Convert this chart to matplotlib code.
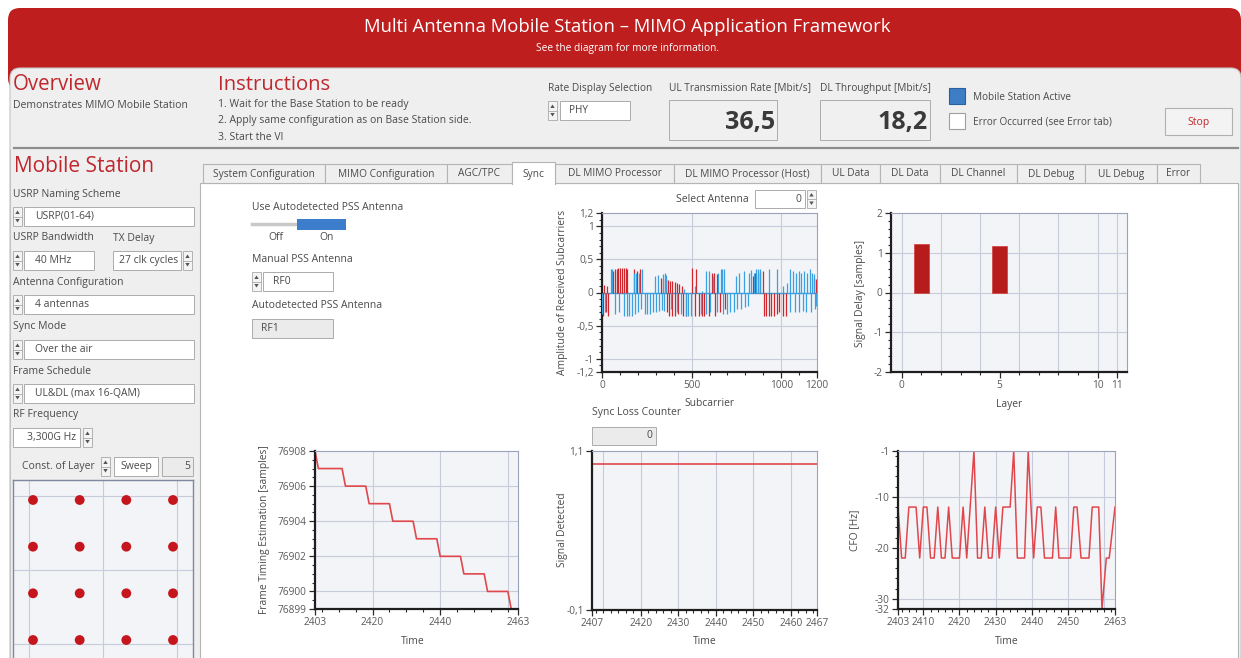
import matplotlib
matplotlib.use('Agg')
import matplotlib.pyplot as plt
from matplotlib.patches import Rectangle, FancyBboxPatch, Polygon
import numpy as np

plt.rcParams['font.family'] = ['Open Sans', 'DejaVu Sans']

# ------------------------------------------------------------------ data
title = "Multi Antenna Mobile Station \u2013 MIMO Application Framework"
subtitle = "See the diagram for more information."
instructions = ["1. Wait for the Base Station to be ready",
                "2. Apply same configuration as on Base Station side.",
                "3. Start the VI"]
ul_rate = "36,5"
dl_rate = "18,2"
tab_names = ["System Configuration", "MIMO Configuration", "AGC/TPC", "Sync",
             "DL MIMO Processor", "DL MIMO Processor (Host)", "UL Data", "DL Data",
             "DL Channel", "DL Debug", "UL Debug", "Error"]
selected_tab = "Sync"

# received subcarriers (antenna 0): red / blue components
red_sc = [5, 12, 20, 28, 35, 62, 72, 82, 92, 102, 112, 122, 132, 142, 180, 198, 214,
          330, 342, 355, 368, 380, 392, 405, 418, 430, 445,
          362, 376, 390, 410, 426, 450, 468, 500, 524,
          520, 540, 556, 572, 598, 628, 658, 688, 612, 626, 640,
          842, 856, 868, 882, 896, 906, 918, 932, 946, 960, 975, 990, 1008, 1028,
          1182, 1196]
red_amp = [-0.35, 0.12, -0.30, 0.10, -0.35, 0.33, 0.36, 0.35, 0.37, 0.37, 0.37, 0.37, 0.37, 0.36, 0.35, 0.33, 0.35,
           0.22, 0.21, 0.20, 0.19, 0.18, 0.17, 0.16, 0.15, 0.13, 0.10,
           -0.30, -0.35, -0.35, -0.35, -0.33, -0.35, -0.35, 0.37, 0.36,
           -0.35, -0.35, -0.35, -0.35, -0.35, -0.35, -0.30, -0.25, 0.30, 0.30, 0.28,
           0.25, 0.30, 0.30, 0.32, 0.33, -0.35, -0.35, -0.35, -0.35, -0.35, -0.33, -0.30, -0.35, -0.35,
           0.22, 0.20]
blue_sc = [0, 15, 50, 58, 75, 95, 120, 138, 152, 166, 182, 200, 220, 238, 252, 268, 284, 300, 318, 334, 348,
           176, 192, 206, 226, 298, 310, 340, 350, 358,
           385, 420, 440, 470, 482, 494, 460, 520, 560,
           582, 596, 618, 650, 662, 672, 682,
           550, 580, 604, 640, 676, 698, 716, 736, 756, 776, 796, 816,
           746, 762, 790, 818, 834, 848, 860, 872, 884, 934,
           978, 1012, 1032, 1050, 1068, 1084, 1098, 1112, 1128, 1144, 1160, 1172, 1186,
           1052, 1078, 1100, 1120, 1140, 1164, 1190, 1197]
blue_amp = [-0.33, -0.30, 0.35, 0.35, -0.33, -0.30, -0.35, -0.35, -0.35, -0.35, -0.33, -0.30, -0.25, -0.33, -0.33,
            -0.32, -0.30, -0.30, -0.28, -0.26, -0.28,
            0.30, 0.30, 0.30, 0.35, 0.25, 0.27, 0.28, 0.30, 0.27,
            -0.25, -0.30, -0.33, -0.35, -0.35, -0.35, 0.05, 0.10, 0.03,
            0.33, 0.33, 0.25, 0.30, 0.35, 0.35, 0.35,
            -0.33, -0.33, -0.30, -0.30, -0.33, -0.32, -0.30, -0.30, -0.25, -0.25, -0.22, -0.20,
            0.25, 0.30, 0.32, 0.30, 0.34, 0.30, 0.35, 0.35, 0.35, 0.35,
            0.35, 0.10, 0.15, 0.35, 0.32, 0.30, 0.32, 0.30, 0.32, 0.30, 0.35, 0.30, 0.28,
            -0.30, -0.30, -0.30, -0.28, -0.30, -0.30, -0.25, -0.20]

# signal delay per layer
layers = [1, 5]
signal_delay = [1.21, 1.17]

# frame timing estimation
ft_time = [2403, 2404, 2411, 2412, 2418, 2419, 2425, 2426, 2432, 2433, 2439, 2440,
           2446, 2447, 2453, 2454, 2460, 2461]
ft_value = [76908, 76907, 76907, 76906, 76906, 76905, 76905, 76904, 76904, 76903, 76903, 76902,
            76902, 76901, 76901, 76900, 76900, 76899]

# signal detected
sd_time = [2407, 2467]
sd_value = [1.0, 1.0]

# CFO
cfo_time = [2403, 2404, 2405, 2406, 2408, 2409, 2410, 2411, 2412, 2413, 2414, 2415, 2416, 2417, 2418,
            2420, 2421, 2422, 2424, 2425, 2426, 2427, 2428, 2429, 2430, 2431, 2432, 2434, 2435, 2436,
            2438, 2439, 2440.5, 2441.5, 2442.5, 2443.5, 2445.7, 2446.6, 2447.5, 2450.7, 2451.6, 2452.5,
            2453.6, 2455.8, 2456.7, 2458.5, 2459.4, 2460.6, 2461.4, 2463]
cfo_value = [-12, -22, -22, -12, -12, -22, -12, -12, -22, -22, -12, -22, -22, -12, -22,
             -22, -12, -22, -1, -22, -22, -12, -22, -22, -12, -22, -12, -12, -1, -22,
             -22, -1, -22, -12, -12, -22, -22, -12, -22, -22, -12, -12,
             -22, -22, -12, -12, -32, -22, -22, -12]

# constellation (16-QAM, layer 5)
const_levels = [-0.949, -0.316, 0.316, 0.949]
const_i = [i for q in const_levels for i in const_levels]
const_q = [q for q in const_levels for i in const_levels]

# ------------------------------------------------------------------ styles
W, H = 1241, 658
RED = '#BE1E1E'
RED_T = '#C0272D'
TXT = '#4A4A4A'
PANEL = '#EFEFEF'
BORDER = '#ABABAB'
CH_BG = '#F3F4F7'
GRID = '#C7CCDC'
BLUE = '#3C7DC6'
FS = 7.5

fig = plt.figure(figsize=(W / 100, H / 100), dpi=100)
fig.patch.set_facecolor('white')
ui = fig.add_axes([0, 0, 1, 1], zorder=0)
ui.set_xlim(0, W)
ui.set_ylim(H, 0)
ui.axis('off')


def rect(x0, y0, x1, y1, fc, ec='none', lw=0.8, r=0, z=1):
    if r:
        p = FancyBboxPatch((x0, y0), x1 - x0, y1 - y0,
                           boxstyle=f"round,pad=0,rounding_size={r}",
                           fc=fc, ec=ec, lw=lw, zorder=z)
    else:
        p = Rectangle((x0, y0), x1 - x0, y1 - y0, fc=fc, ec=ec, lw=lw, zorder=z)
    ui.add_patch(p)


def txt(x, y, s, size=FS, color=TXT, ha='left', va='center', z=5, **kw):
    ui.text(x, y, s, fontsize=size, color=color, ha=ha, va=va, zorder=z, **kw)


def spinner(x, y0, y1):
    rect(x, y0, x + 9, y1, '#F4F4F4', '#A8A8A8', 0.6, z=3)
    ym = (y0 + y1) / 2
    ui.plot([x, x + 9], [ym, ym], color='#A8A8A8', lw=0.6, zorder=4)
    ui.add_patch(Polygon([[x + 2.3, ym - 2.5], [x + 6.7, ym - 2.5], [x + 4.5, ym - 6]],
                         fc='#555555', ec='none', zorder=4))
    ui.add_patch(Polygon([[x + 2.3, ym + 2.5], [x + 6.7, ym + 2.5], [x + 4.5, ym + 6]],
                         fc='#555555', ec='none', zorder=4))


def box(x0, y0, x1, y1, s='', fc='white', ha='left', pad=10, size=FS):
    rect(x0, y0, x1, y1, fc, BORDER, 0.7, z=3)
    if s:
        if ha == 'left':
            xt = x0 + pad
        elif ha == 'right':
            xt = x1 - pad
        else:
            xt = (x0 + x1) / 2
        txt(xt, (y0 + y1) / 2, s, size=size, ha=ha)


# ---------------------------------------------------------- frame / banner
rect(8, 8, 1241, 90, RED, r=12, z=1)
rect(10, 68, 1241, 700, PANEL, '#C4C4C4', 0.8, r=10, z=2)
ui.plot([14, 1238], [148, 148], color='#8E8E8E', lw=1.6, zorder=3)
txt(627, 27, title, size=13.3, color='white', ha='center')
txt(627, 49, subtitle, size=7.3, color='white', ha='center')

# top panel
txt(13, 85, 'Overview', size=14.8, color=RED_T)
txt(13, 105, 'Demonstrates MIMO Mobile Station', size=FS)
txt(218, 85, 'Instructions', size=14.6, color=RED_T)
for k, line in enumerate(instructions):
    txt(218, 104 + 17 * k, line, size=FS)
txt(548, 88, 'Rate Display Selection', size=7.3)
spinner(548, 101, 120)
box(560, 101, 630, 120, 'PHY', pad=9, size=7.2)
txt(669, 88, 'UL Transmission Rate [Mbit/s]', size=7.3)
box(669, 100, 777, 140, fc='#F0F0F0')
txt(775, 122, ul_rate, size=18, color='#3A3A3A', ha='right', weight='bold')
txt(820, 88, 'DL Throughput [Mbit/s]', size=7.3)
box(820, 100, 930, 140, fc='#F0F0F0')
txt(928, 122, dl_rate, size=18, color='#3A3A3A', ha='right', weight='bold')
rect(949, 88, 965, 104, BLUE, '#2B5E9C', 0.8, z=3)
txt(973, 97, 'Mobile Station Active', size=7.2)
rect(949, 113, 965, 129, 'white', '#A0A0A0', 0.8, z=3)
txt(973, 122, 'Error Occurred (see Error tab)', size=7.2)
rect(1165, 108, 1232, 135, '#F3F3F3', '#B0B0B0', 0.8, z=3)
txt(1198.5, 122, 'Stop', size=7.5, color=RED_T, ha='center')

# left panel: Mobile Station
ui.plot([10, 10], [150, 658], color='#C4C4C4', lw=0.8, zorder=3)
txt(14, 167, 'Mobile Station', size=15, color=RED_T)
txt(13, 194, 'USRP Naming Scheme')
spinner(13, 207, 226)
box(24, 207, 194, 226, 'USRP(01-64)', pad=11)
txt(13, 238, 'USRP Bandwidth')
txt(113, 238, 'TX Delay')
spinner(13, 251, 270)
box(24, 251, 94, 270, '40 MHz', pad=11)
box(113, 251, 181, 270, '27 clk cycles', ha='right', pad=3)
spinner(183, 251, 270)
txt(13, 282, 'Antenna Configuration')
spinner(13, 295, 314)
box(24, 295, 194, 314, '4 antennas', pad=11)
txt(13, 326, 'Sync Mode')
spinner(13, 340, 359)
box(24, 340, 194, 359, 'Over the air', pad=11)
txt(13, 371, 'Frame Schedule')
spinner(13, 384, 403)
box(24, 384, 194, 403, 'UL&DL (max 16-QAM)', pad=11)
txt(13, 415, 'RF Frequency')
box(13, 428, 80, 447, '3,300G Hz', ha='right', pad=4)
spinner(83, 428, 447)
txt(22, 466, 'Const. of Layer')
spinner(101, 457, 476)
box(114, 457, 158, 476, 'Sweep', ha='center')
box(162, 457, 193, 476, '5', fc='#EBEBEB', ha='right', pad=3)

# tab control
rect(200, 183, 1238, 700, 'white', '#B4B4B4', 0.8, z=3)
tab_edges = [203, 325, 447, 512, 555, 674, 821, 880, 940, 1017, 1085, 1157, 1200]
for k, name in enumerate(tab_names):
    x0, x1 = tab_edges[k], tab_edges[k + 1]
    if name == selected_tab:
        rect(x0, 162, x1, 184.5, 'white', 'none', z=5)
        ui.plot([x0, x0, x1, x1], [184, 162, 162, 184], color='#B4B4B4', lw=0.8, zorder=6)
    else:
        rect(x0, 164, x1, 183, '#EFEFEF', '#B4B4B4', 0.8, z=4)
    txt((x0 + x1) / 2, 174, name, size=7.3, ha='center', z=7)

# sync tab controls
txt(252, 207, 'Use Autodetected PSS Antenna')
ui.plot([252, 296], [224, 224], color='#C8C8C8', lw=2.5, zorder=4)
rect(297, 219, 346, 230, '#3C7DCC', z=4)
txt(276, 238, 'Off', ha='center')
txt(327, 238, 'On', ha='center')
txt(252, 259, 'Manual PSS Antenna')
spinner(252, 272, 291)
box(263, 272, 333, 291, 'RF0', pad=10)
txt(252, 306, 'Autodetected PSS Antenna')
box(252, 319, 333, 338, 'RF1', fc='#EBEBEB', pad=9)
txt(676, 199, 'Select Antenna')
box(755, 190, 805, 208, '0', ha='right', pad=4)
spinner(807, 190, 208)
txt(592, 412, 'Sync Loss Counter')
box(592, 427, 656, 445, '0', fc='#EBEBEB', ha='right', pad=4)

# axis labels (pixel placed)
AL = 7.4
txt(563, 292, 'Amplitude of Received Subcarriers', size=AL, ha='center', rotation=90)
txt(710, 403, 'Subcarrier', size=AL, ha='center')
txt(861, 293, 'Signal Delay [samples]', size=AL, ha='center', rotation=90)
txt(1009, 405, 'Layer', size=AL, ha='center')
txt(265, 530, 'Frame Timing Estimation [samples]', size=AL, ha='center', rotation=90)
txt(413, 642, 'Time', size=AL, ha='center')
txt(563, 530, 'Signal Detected', size=AL, ha='center', rotation=90)
txt(705, 642, 'Time', size=AL, ha='center')
txt(855, 530, 'CFO [Hz]', size=AL, ha='center', rotation=90)
txt(1007, 642, 'Time', size=AL, ha='center')


# ---------------------------------------------------------------- charts
def make_ax(x0, y0, x1, y1):
    ax = fig.add_axes([x0 / W, 1 - y1 / H, (x1 - x0) / W, (y1 - y0) / H], zorder=3)
    ax.set_facecolor(CH_BG)
    for s in ('left', 'bottom'):
        ax.spines[s].set_color('#1E1E1E')
        ax.spines[s].set_linewidth(1.6)
    for s in ('top', 'right'):
        ax.spines[s].set_color('#9AA3BC')
        ax.spines[s].set_linewidth(0.8)
    ax.tick_params(which='major', direction='out', length=4, width=0.9, color='#2A2A2A',
                   labelsize=7.3, labelcolor='#5A5A5A', pad=2)
    ax.tick_params(which='minor', direction='out', length=2.5, width=0.8, color='#2A2A2A')
    return ax


def grid(ax, xs=(), ys=()):
    for v in xs:
        ax.axvline(v, color=GRID, lw=0.8, zorder=0.5)
    for v in ys:
        ax.axhline(v, color=GRID, lw=0.8, zorder=0.5)


def fmt(v):
    s = f"{v:g}"
    return s.replace('.', ',')


# chart 1: received subcarriers
ax1 = make_ax(602, 213, 817, 372)
ax1.set_xlim(0, 1200)
ax1.set_ylim(-1.2, 1.2)
grid(ax1, [500, 1000], [-1, -0.5, 0, 0.5, 1])
ax1.plot([0, 1200], [0, 0], color='#3AA0E0', lw=1.0, zorder=1)
ax1.vlines(red_sc, 0, red_amp, color='#D0262E', lw=0.9, zorder=2)
ax1.vlines(blue_sc, 0, blue_amp, color='#3AA0E0', lw=0.9, zorder=3)
yt = [-1.2, -1, -0.5, 0, 0.5, 1, 1.2]
ax1.set_yticks(yt, [fmt(v) for v in yt])
ax1.set_yticks(np.arange(-12, 13) / 10, minor=True)
ax1.set_xticks([0, 500, 1000, 1200], ['0', '500', '1000', '1200'])
ax1.set_xticks(np.arange(0, 1201, 100), minor=True)

# chart 2: signal delay
ax2 = make_ax(891, 213, 1127, 372)
ax2.set_xlim(-0.55, 11.5)
ax2.set_ylim(-2, 2)
grid(ax2, [0, 2, 4, 6, 8, 10, 11], [-1, 0, 1])
ax2.bar(layers, signal_delay, width=0.75, color='#B71C1C', edgecolor='#D24848', lw=0.6, zorder=2)
ax2.set_xticks([0, 5, 10, 11], ['0', '5', '10', '11'])
ax2.set_xticks(np.arange(0, 12), minor=True)
ax2.set_yticks([-2, -1, 0, 1, 2], ['-2', '-1', '0', '1', '2'])
ax2.set_yticks(np.arange(-20, 21, 2) / 10, minor=True)

# chart 3: frame timing estimation
ax3 = make_ax(315, 451, 518, 609)
ax3.set_xlim(2403, 2463)
ax3.set_ylim(76899, 76908)
grid(ax3, [2420, 2440, 2460], [76900, 76902, 76904, 76906])
ax3.plot(ft_time, ft_value, color='#E0474C', lw=1.2, zorder=2, clip_on=True)
ax3.set_xticks([2403, 2420, 2440, 2463], ['2403', '2420', '2440', '2463'])
ax3.set_xticks(np.arange(2405, 2463, 5), minor=True)
yt3 = [76899, 76900, 76902, 76904, 76906, 76908]
ax3.set_yticks(yt3, [str(v) for v in yt3])
ax3.set_yticks(np.arange(76899, 76908.01, 0.5), minor=True)

# chart 4: signal detected
ax4 = make_ax(592, 451, 817, 610)
ax4.set_xlim(2407, 2467)
ax4.set_ylim(-0.1, 1.1)
grid(ax4, [2410, 2420, 2430, 2440, 2450, 2460], [])
ax4.plot(sd_time, sd_value, color='#E0474C', lw=1.2, zorder=2)
xt4 = [2407, 2420, 2430, 2440, 2450, 2460, 2467]
ax4.set_xticks(xt4, [str(v) for v in xt4])
ax4.set_xticks(np.arange(2408, 2467, 2), minor=True)
ax4.set_yticks([-0.1, 1.1], ['-0,1', '1,1'])

# chart 5: CFO
ax5 = make_ax(898, 451, 1115, 609)
ax5.set_xlim(2403, 2463)
ax5.set_ylim(-32, -1)
grid(ax5, [2410, 2420, 2430, 2440, 2450, 2460], [-30, -20, -10])
ax5.plot(cfo_time, cfo_value, color='#E0474C', lw=1.1, zorder=2)
xt5 = [2403, 2410, 2420, 2430, 2440, 2450, 2463]
ax5.set_xticks(xt5, [str(v) for v in xt5])
ax5.set_xticks(np.arange(2404, 2463, 2), minor=True)
yt5 = [-32, -30, -20, -10, -1]
ax5.set_yticks(yt5, [str(v) for v in yt5])
ax5.set_yticks(np.arange(-32, 0, 2), minor=True)

# constellation
ax6 = fig.add_axes([13 / W, 1 - 660 / H, 180 / W, 180 / H], zorder=3)
ax6.set_facecolor(CH_BG)
ax6.set_xlim(-1.22, 1.22)
ax6.set_ylim(-1.22, 1.22)
for s in ax6.spines.values():
    s.set_color('#7F889F')
    s.set_linewidth(1.0)
ax6.set_xticks([])
ax6.set_yticks([])
grid(ax6, [-1, 0, 1], [-1, 0, 1])
ax6.scatter(const_i, const_q, s=50, color='#C4161C', edgecolors='none', zorder=2)

fig.savefig('out.png', dpi=100, facecolor='white')
